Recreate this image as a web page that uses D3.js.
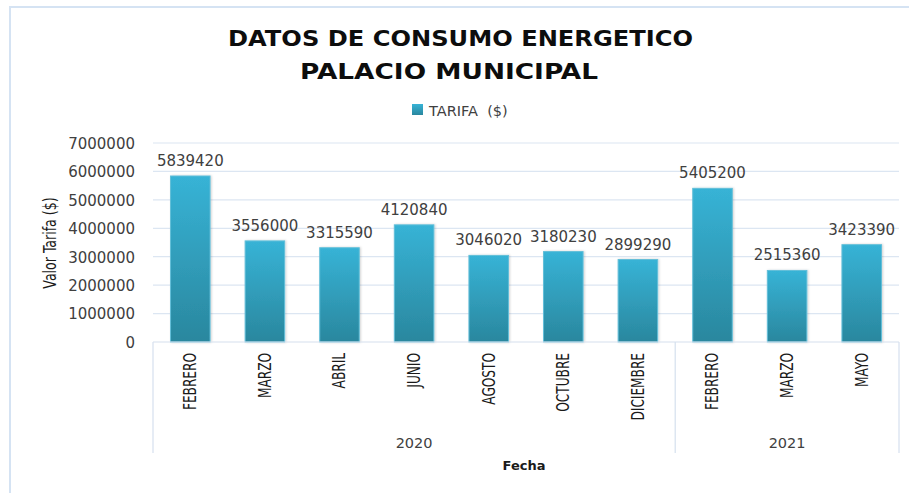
<!DOCTYPE html>
<html>
<head>
<meta charset="utf-8">
<script src="https://cdn.jsdelivr.net/npm/d3@7"></script>
<style>
  html, body { margin: 0; padding: 0; background: #fff; }
  svg { display: block; }
</style>
</head>
<body>
<svg id="chart" width="909" height="493"></svg>
<script>
const months = ["FEBRERO", "MARZO", "ABRIL", "JUNIO", "AGOSTO", "OCTUBRE", "DICIEMBRE", "FEBRERO", "MARZO", "MAYO"];
const years = ["2020", "2020", "2020", "2020", "2020", "2020", "2020", "2021", "2021", "2021"];
const tarifa = [5839420, 3556000, 3315590, 4120840, 3046020, 3180230, 2899290, 5405200, 2515360, 3423390];
const yTicks = [0, 1000000, 2000000, 3000000, 4000000, 5000000, 6000000, 7000000];
const titleLines = ["DATOS DE CONSUMO ENERGETICO", "PALACIO MUNICIPAL"];
const seriesName = "TARIFA  ($)";
const yTitle = "Valor Tarifa ($)";
const xTitle = "Fecha";

(function () {
const svg = d3.select("#chart");
const W = 909, H = 493;
const pLeft = 153, pRight = 899, pTop = 143, pBottom = 342;

// frame
svg.append("path")
  .attr("d", `M10,${H} L10,7 L${W},7`)
  .attr("fill", "none").attr("stroke", "#d5e3f3").attr("stroke-width", 2);

const defs = svg.append("defs");
const grad = defs.append("linearGradient").attr("id", "barGrad")
  .attr("x1", 0).attr("y1", 0).attr("x2", 0).attr("y2", 1);
grad.append("stop").attr("offset", "0%").attr("stop-color", "#37b3d6");
grad.append("stop").attr("offset", "100%").attr("stop-color", "#2a879e");
const shadow = defs.append("filter").attr("id", "shadow").attr("x", "-20%").attr("y", "-5%").attr("width", "140%").attr("height", "110%");
shadow.append("feDropShadow").attr("dx", 1).attr("dy", 0).attr("stdDeviation", 1.2).attr("flood-color", "#000").attr("flood-opacity", 0.18);

const idx = months.map((m, i) => i);
const x = d3.scaleBand().domain(idx).range([pLeft, pRight]).paddingInner(0.47).paddingOuter(0.235);
const y = d3.scaleLinear().domain([0, 7000000]).range([pBottom, pTop]);
const half = (x.step() - x.bandwidth()) / 2;

// gridlines
svg.append("g").selectAll("line").data(yTicks.filter(d => d > 0)).join("line")
  .attr("x1", pLeft).attr("x2", pRight)
  .attr("y1", d => y(d)).attr("y2", d => y(d))
  .attr("stroke", "#dce6f2").attr("stroke-width", 1.2);

// y axis labels
const yAxis = d3.axisLeft(y).tickValues(yTicks).tickSize(0).tickPadding(0).tickFormat(d3.format("d"));
const yg = svg.append("g").attr("transform", `translate(135,0)`).call(yAxis);
yg.select(".domain").remove();
yg.selectAll("text")
  .attr("font-family", "DejaVu Sans, Verdana, sans-serif")
  .attr("font-size", "15px").attr("fill", "#404040").attr("dy", "0.36em");

// bars
svg.append("g").selectAll("rect").data(tarifa).join("rect")
  .attr("x", (d, i) => x(i)).attr("width", x.bandwidth())
  .attr("y", d => y(d)).attr("height", d => pBottom - y(d))
  .attr("fill", "url(#barGrad)")
  .attr("stroke", "#62bfd9").attr("stroke-width", 1)
  .attr("filter", "url(#shadow)");

// value labels
svg.append("g").selectAll("text").data(tarifa).join("text")
  .attr("x", (d, i) => x(i) + x.bandwidth() / 2)
  .attr("y", d => y(d) - 10)
  .attr("text-anchor", "middle")
  .attr("font-family", "DejaVu Sans, Verdana, sans-serif")
  .attr("font-size", "15px").attr("fill", "#404040")
  .text(d => d);

// x axis line
svg.append("line").attr("x1", pLeft).attr("x2", pRight).attr("y1", pBottom).attr("y2", pBottom)
  .attr("stroke", "#d5e0ee").attr("stroke-width", 1.2);

// month labels
const xAxis = d3.axisBottom(x).tickSize(0).tickPadding(0).tickFormat(i => months[i]);
const xg = svg.append("g").attr("transform", `translate(0,${pBottom})`).call(xAxis);
xg.select(".domain").remove();
xg.selectAll("text")
  .attr("transform", "translate(0,11) rotate(-90) scale(1,1.25)")
  .attr("x", 0).attr("y", 0).attr("dy", "0.35em")
  .attr("text-anchor", "end")
  .attr("font-family", "DejaVu Sans Condensed, Liberation Sans Narrow, sans-serif")
  .attr("font-stretch", "condensed")
  .attr("font-size", "13.5px").attr("fill", "#1a1a1a");

// year groups
const groups = Array.from(d3.group(idx, i => years[i]), ([k, v]) => ({ k, first: v[0], last: v[v.length - 1] }));
svg.append("g").selectAll("line").data(groups.map(g => g.first)).join("line")
  .attr("x1", i => x(i) - half).attr("x2", i => x(i) - half)
  .attr("y1", pBottom).attr("y2", 453)
  .attr("stroke", "#d5e0ee").attr("stroke-width", 1.2);
svg.append("line").attr("x1", pRight).attr("x2", pRight).attr("y1", pBottom).attr("y2", 453)
  .attr("stroke", "#d5e0ee").attr("stroke-width", 1.2);
svg.append("g").selectAll("text").data(groups).join("text")
  .attr("x", g => ((x(g.first) - half) + (x(g.last) + x.bandwidth() + half)) / 2)
  .attr("y", 448)
  .attr("text-anchor", "middle")
  .attr("font-family", "DejaVu Sans, Verdana, sans-serif")
  .attr("font-size", "14.5px").attr("fill", "#404040")
  .text(g => g.k);

// axis titles
svg.append("text").attr("x", 524).attr("y", 470).attr("text-anchor", "middle")
  .attr("font-family", "DejaVu Sans, Verdana, sans-serif").attr("font-weight", "bold")
  .attr("font-size", "13px").attr("fill", "#1a1a1a").text(xTitle);
svg.append("text").attr("transform", "translate(56,243) rotate(-90) scale(1,1.25)").attr("text-anchor", "middle")
  .attr("font-family", "DejaVu Sans Condensed, Liberation Sans Narrow, sans-serif")
  .attr("font-stretch", "condensed")
  .attr("font-size", "14px").attr("fill", "#1a1a1a").text(yTitle);

// title
const titleX = [460.5, 449];
const titleW = [465, 298];
svg.append("g").selectAll("text").data(titleLines).join("text")
  .attr("x", (d, i) => titleX[i] - titleW[i] / 2).attr("y", (d, i) => 46 + i * 33)
  .attr("textLength", (d, i) => titleW[i]).attr("lengthAdjust", "spacingAndGlyphs")
  .attr("font-family", "DejaVu Sans, sans-serif").attr("font-weight", "bold")
  .attr("font-size", "22px").attr("fill", "#0d0d0d")
  .text(d => d);

// legend
svg.append("rect").attr("x", 412).attr("y", 104).attr("width", 11).attr("height", 11)
  .attr("fill", "url(#barGrad)");
svg.append("text").attr("x", 429).attr("y", 115.5)
  .attr("font-family", "DejaVu Sans, Verdana, sans-serif")
  .attr("font-size", "14.5px").attr("fill", "#404040")
  .style("white-space", "pre")
  .text(seriesName);
})();
</script>
</body>
</html>
